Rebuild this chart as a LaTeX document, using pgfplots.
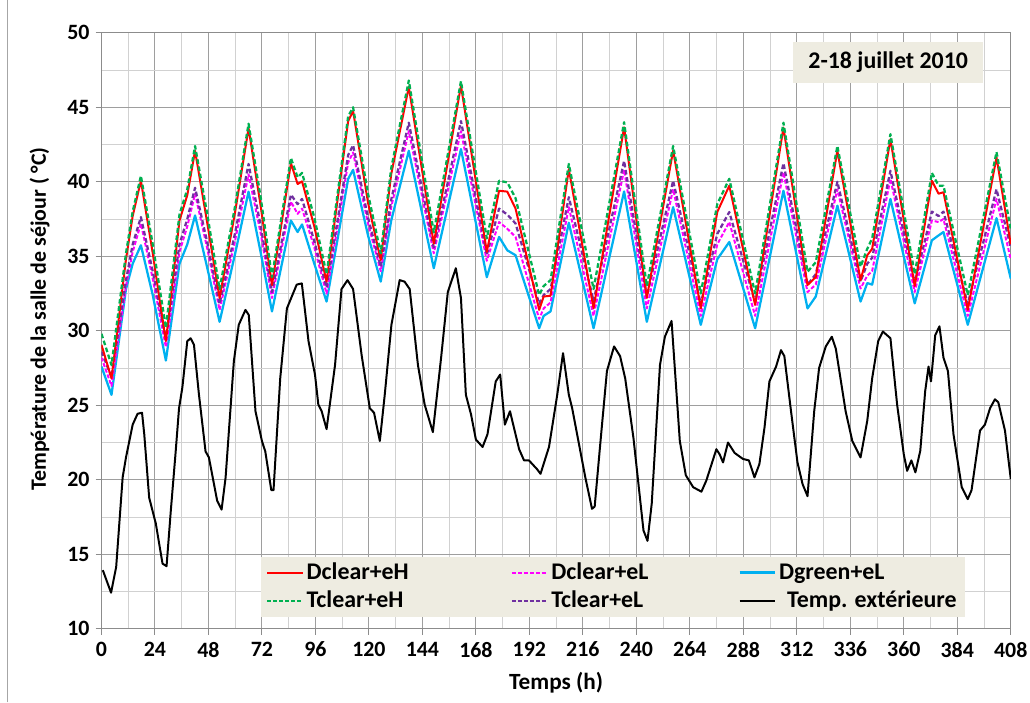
\documentclass[border=0pt]{standalone}
\usepackage{pgfplots}
\pgfplotsset{compat=1.18}
\usepackage{pgfplotstable}
\usepackage{fontspec}
\setmainfont{Carlito}
\definecolor{cR}{HTML}{FF0000}
\definecolor{cG}{HTML}{00B050}
\definecolor{cP}{HTML}{7030A0}
\definecolor{cM}{HTML}{FF00FF}
\definecolor{cB}{HTML}{00B0F0}
\definecolor{cBox}{HTML}{EEECE1}
\pgfplotstableread{
x R G P M B
0 29.06 29.8 28.6 28.2 27.6
4.5 26.8 27.7 26.9 26.3 25.7
11 34.8 35.2 33.4 33.0 32.8
14 37.7 38.0 35.8 35.3 34.5
17.7 40.07 40.4 37.63 37.2 35.74
23 35.2 35.8 34.0 33.5 32.4
28.9 29.3 30.2 29.4 28.9 28.0
35 37.4 37.8 35.8 35.3 34.5
38.5 39.1 39.5 37.5 37.0 35.8
42 42.08 42.4 39.6 39.2 37.74
47.5 37.2 37.8 35.9 35.5 34.2
53 32.2 32.8 31.8 31.4 30.6
60 38.0 38.4 36.6 36.1 35.2
66 43.6 43.9 41.2 40.5 39.34
71.5 38.3 38.9 37.0 36.5 35.2
76.5 33.07 33.6 32.6 32.2 31.3
85 41.25 41.6 39.14 38.67 37.4
88 39.85 40.3 38.5 37.85 36.63
90 40.03 40.6 38.85 38.2 37.14
95.5 37.0 37.6 36.0 35.6 34.5
101 33.3 33.8 32.9 32.5 31.96
110.7 44.08 44.4 41.8 41.3 40.2
112.9 44.75 45.0 42.46 41.97 40.8
119.6 38.6 39.2 37.6 37.2 36.4
125.3 34.74 35.2 34.3 34.0 33.3
130 40.5 40.9 38.8 38.3 37.4
137.9 46.37 46.8 43.97 43.4 42.08
149.1 35.85 36.6 35.6 35.2 34.2
161.3 46.46 46.75 44.08 43.4 42.2
172.9 35.3 36.2 35.1 34.7 33.6
178.4 39.4 40.07 38.2 37.3 36.3
182.1 39.34 39.96 37.8 36.85 35.4
185.8 38.2 38.9 37.2 36.3 35.07
196.4 31.4 32.4 31.8 30.8 30.17
198.4 32.3 33.0 32.4 31.5 31.0
201.5 32.35 33.4 32.8 31.9 31.3
209.7 40.85 41.2 38.97 38.3 37.25
220.8 31.5 32.8 32.0 31.0 30.17
234.5 43.66 44.0 41.4 40.8 39.35
244.7 32.2 33.0 32.3 31.5 30.6
256.5 42.1 42.4 40.07 39.5 38.3
268.9 31.5 32.5 31.8 31.0 30.4
276.3 37.97 38.5 36.5 35.8 34.8
281.7 39.74 40.2 37.97 37.3 35.96
293.3 31.73 32.5 31.9 31.0 30.17
306 43.64 43.97 41.25 40.63 39.4
316.8 33.07 33.96 33.1 32.6 31.5
320.5 33.6 34.6 33.8 33.1 32.3
330.2 42.08 42.4 40.0 39.5 38.4
340.6 33.4 34.3 33.3 32.84 31.96
343.6 35.07 35.5 34.5 33.7 33.2
345.8 35.5 36.2 34.9 34.0 33.1
354 42.86 43.2 40.74 40.2 38.85
364.9 33.0 33.8 33.2 32.6 31.84
372.6 40.07 40.6 38.0 37.4 36.07
375.6 39.2 39.74 37.7 37.3 36.4
377.8 39.3 39.74 38.0 37.5 36.63
388.7 31.4 32.4 31.8 31.0 30.4
401.6 41.64 42.0 39.5 38.85 37.56
408 35.8 36.8 35.6 34.8 33.5
}\indoor
\pgfplotstableread{
x T
0.6 13.93
4.3 12.42
6.6 14.15
9.5 20.16
11 21.5
14 23.7
16.2 24.43
18.2 24.5
19.2 23.05
21.4 18.8
24.4 17.05
25.9 15.7
27.4 14.37
29.2 14.2
31.1 17.9
33.3 21.9
34.8 24.8
36.3 26.2
38.5 29.3
40 29.5
41.5 29.06
43.75 25.7
46.7 21.9
48.2 21.5
51.9 18.6
53.9 18.0
55.7 20.16
59.4 27.95
61.6 30.4
64.6 31.4
66.1 31.06
69.1 24.6
72 22.6
73.5 21.9
76.2 19.3
77.2 19.3
80.2 26.8
83.2 31.5
85.4 32.3
87.6 33.1
89.9 33.18
92.9 29.3
95.8 27.06
97.3 25.05
98.8 24.6
101 23.4
104.8 27.7
107.7 32.8
110.4 33.4
112.9 32.8
116.7 28.4
120.4 24.8
122.3 24.5
124.9 22.6
127.1 25.7
130.1 30.4
133.8 33.4
136 33.3
138.3 32.8
142 27.7
145 25.05
148.7 23.2
152.4 28.2
155.4 32.6
159 34.2
161.3 32.2
163.5 25.7
165.8 24.4
168 22.7
171 22.2
173.2 23.05
176.9 26.6
178.9 27.06
181 23.7
183.3 24.6
187.4 22.05
189.6 21.3
191.8 21.3
195.5 20.7
197 20.4
200.8 22.2
204.5 25.7
207.1 28.5
209.7 25.7
211.2 24.8
217.1 20.16
220.1 18.05
221.3 18.2
223.8 22.4
226.8 27.3
230 28.95
232.7 28.3
235 26.8
238.7 22.8
243.2 16.6
245 15.9
246.9 18.4
250.6 27.7
252.8 29.6
255.8 30.66
259.5 22.6
262.2 20.3
265.5 19.5
269.2 19.2
271.4 19.95
275.9 22.05
277.4 21.7
278.9 21.16
281.1 22.5
284.1 21.8
287.8 21.4
290.5 21.3
293 20.16
295.2 21.05
297.5 23.5
299.7 26.6
302.7 27.6
304.9 28.7
306.4 28.3
309.4 24.6
312.3 21.16
314.6 19.7
316.8 18.9
319.8 24.6
322 27.5
325 28.95
327.7 29.6
329.5 28.8
333.9 24.6
336.9 22.6
340.6 21.5
343.6 23.95
345.8 26.8
348.5 29.3
350.6 29.95
354 29.5
357 25.05
360 21.7
361.5 20.6
363.4 21.3
365.2 20.5
367.4 21.95
369.6 25.95
371.1 27.6
372.2 26.6
374.1 29.7
376 30.3
377.8 28.2
379.8 27.3
382.3 23.05
386 19.5
388.7 18.7
390.4 19.3
394.2 23.3
396.4 23.7
398.7 24.8
400.9 25.4
402.4 25.2
405.4 23.3
408 20.05
}\outdoor
\begin{document}
\begin{tikzpicture}[x=1pt,y=1pt]
\useasboundingbox (-76.5,-55.5) rectangle (700,474);
\draw[black!35, line width=0.6pt] (-71.25,-55.5) -- (-71.25,474);
\begin{axis}[at={(0,0)}, anchor=south west, scale only axis,
  width=685.5pt, height=449.25pt,
  xmin=0, xmax=408, ymin=10, ymax=50,
  xtick={0,24,...,408}, ytick={10,15,...,50},
  minor xtick={12,36,...,396}, minor ytick={12.5,17.5,...,47.5},
  grid=both,
  major grid style={color=black!38, line width=0.7pt},
  minor grid style={color=black!18, line width=0.7pt},
  axis line style={black!45, line width=0.8pt},
  tick align=outside, major tick length=4.5pt, minor tick length=0pt,
  tick style={black!45, line width=0.8pt},
  xtick pos=left, ytick pos=left,
  tick label style={font=\fontsize{16.5}{20}\selectfont\bfseries},
  xticklabel style={yshift=-2pt},
  yticklabel style={xshift=-1pt},
  /pgf/number format/assume math mode=true,
  xlabel={Temps (h)},
  ylabel={Température de la salle de séjour ( °C)},
  xlabel style={font=\fontsize{17.5}{20}\selectfont\bfseries, at={(axis description cs:0.5,-0.09)}, anchor=center},
  ylabel style={font=\fontsize{16.5}{19}\selectfont\bfseries, at={(axis description cs:-0.068,0.52)}, anchor=center},
  legend columns=3,
  legend cell align=left,
  legend image code/.code={\draw[#1] (0pt,0pt) -- (27pt,0pt);},
  legend style={at={(axis description cs:0.175,0.02)}, anchor=south west,
    fill=cBox, draw=none, font=\fontsize{18}{21}\selectfont\bfseries,
    inner xsep=4pt, inner ysep=3pt, row sep=3pt,
    /tikz/every even column/.append style={column sep=2pt}},
]
\addplot[cB, line width=1.7pt, line join=round, forget plot] table[x=x, y=B] {\indoor};
\addplot[cM, line width=1.5pt, dash pattern=on 3pt off 1.5pt, line join=round, forget plot] table[x=x, y=M] {\indoor};
\addplot[cP, line width=1.7pt, dash pattern=on 3.5pt off 2pt, line join=round, forget plot] table[x=x, y=P] {\indoor};
\addplot[cR, line width=1.5pt, line join=round, forget plot] table[x=x, y=R] {\indoor};
\addplot[cG, line width=1.7pt, dash pattern=on 3.5pt off 2pt, line join=round, forget plot] table[x=x, y=G] {\indoor};
\addplot[black, line width=1.5pt, line join=round, forget plot] table[x=x, y=T] {\outdoor};
\addlegendimage{cR, line width=1.5pt}
\addlegendentry{\makebox[150pt][l]{Dclear+eH}}
\addlegendimage{cM, line width=1.5pt, dash pattern=on 3pt off 1.5pt}
\addlegendentry{\makebox[137pt][l]{Dclear+eL}}
\addlegendimage{cB, line width=1.7pt}
\addlegendentry{Dgreen+eL}
\addlegendimage{cG, line width=1.5pt, dash pattern=on 3pt off 1.5pt}
\addlegendentry{\makebox[150pt][l]{Tclear+eH}}
\addlegendimage{cP, line width=1.5pt, dash pattern=on 3pt off 1.5pt}
\addlegendentry{\makebox[137pt][l]{Tclear+eL}}
\addlegendimage{black, line width=1.5pt}
\addlegendentry{\hspace{6pt}Temp. extérieure}
\node[fill=cBox, minimum width=143pt, minimum height=30.75pt, inner sep=0pt,
  font=\fontsize{18}{21}\selectfont\bfseries] at (axis cs:353,48.03) {2-18 juillet 2010};
\end{axis}
\end{tikzpicture}
\end{document}
